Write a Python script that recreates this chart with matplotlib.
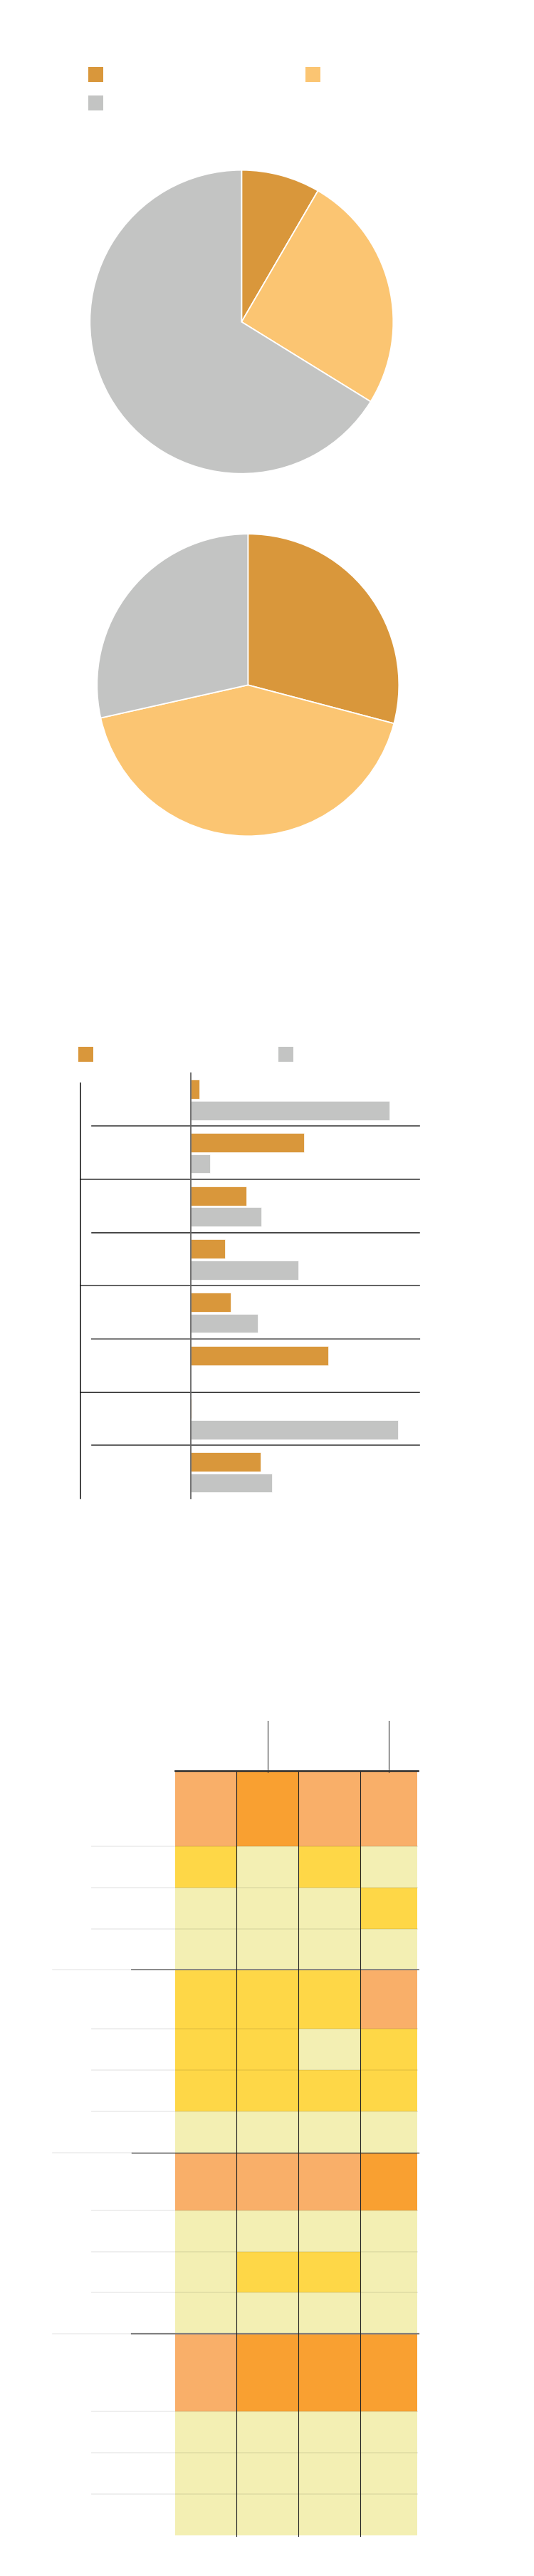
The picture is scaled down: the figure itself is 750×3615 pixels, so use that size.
import numpy as np
import matplotlib
matplotlib.use("Agg")
import matplotlib.pyplot as plt
from matplotlib.lines import Line2D
from matplotlib.colors import ListedColormap
from matplotlib.transforms import blended_transform_factory

W, H = 750, 3616

DARK = "#D9973B"
LIGHT = "#FBC572"
GREY = "#C3C4C3"
PALE = "#F3EFB3"
YELLOW = "#FED747"
SALMON = "#F9AF69"
ORANGE = "#F9A031"

# pie data (shares in %)
pie1_shares = [8.4, 25.4, 66.2]
pie2_shares = [29.1, 42.4, 28.5]
pie_colors = [DARK, LIGHT, GREY]

# paired bars, eight rows in four groups of two
bar_orange = [3.6, 49.5, 24.3, 14.9, 17.5, 60.0, 0.4, 30.5]
bar_grey = [87.0, 8.5, 30.7, 47.0, 29.2, 0.0, 90.5, 35.4]

# heat table levels: 0 pale, 1 yellow, 2 salmon, 3 orange
heat_group1 = [[2, 3, 2, 2], [1, 0, 1, 0], [0, 0, 0, 1], [0, 0, 0, 0]]
heat_group2 = [[1, 1, 1, 2], [1, 1, 0, 1], [1, 1, 1, 1], [0, 0, 0, 0]]
heat_group3 = [[2, 2, 2, 3], [0, 0, 0, 0], [0, 1, 1, 0], [0, 0, 0, 0]]
heat_group4 = [[2, 3, 3, 3], [0, 0, 0, 0], [0, 0, 0, 0], [0, 0, 0, 0]]

fig = plt.figure(figsize=(W / 100, H / 100), dpi=100)


def px_axes(left, top, right, bottom):
    return fig.add_axes([left / W, 1 - bottom / H, (right - left) / W, (bottom - top) / H])


def swatch(color):
    # 21 px square key
    return Line2D([], [], marker="s", markersize=21 * 72 / 100, color=color,
                  linestyle="none", markeredgewidth=0)


def square_legend(colors, x, y, pitch, ncol):
    fs = 6
    px = fs * 100 / 72
    fig.legend(handles=[swatch(c) for c in colors], labels=[""] * len(colors),
               ncol=ncol, numpoints=1, loc="upper left",
               bbox_to_anchor=(x / W, 1 - y / H), frameon=False, borderpad=0,
               borderaxespad=0, fontsize=fs, handlelength=21 / px,
               handleheight=21 / px, handletextpad=0,
               columnspacing=(pitch - 21) / px, labelspacing=24 / px)


# ---- pies
square_legend([DARK, GREY, LIGHT], 123.6, 100, 305, 2)

for shares, (cx, cy, r) in [(pie1_shares, (339.3, 452.7, 213)),
                            (pie2_shares, (348.3, 962.3, 212))]:
    ax = px_axes(cx - r, cy - r, cx + r, cy + r)
    ax.pie(shares, colors=pie_colors, startangle=90, counterclock=False,
           radius=1, wedgeprops=dict(edgecolor="white", linewidth=1.3))
    ax.set_xlim(-1, 1)
    ax.set_ylim(-1, 1)
    ax.set_aspect("equal")
    ax.axis("off")

# ---- paired bars
square_legend([DARK, GREY], 109.7, 1475, 281, 2)

ax = px_axes(268.2, 1506.7, 589.2, 2104)
rows = np.arange(len(bar_orange))
ax.barh(rows - 0.19, bar_orange, height=0.36, color=DARK, edgecolor="white", linewidth=0.5)
ax.barh(rows + 0.205, bar_grey, height=0.36, color=GREY, edgecolor="white", linewidth=0.5)
ax.set_xlim(0, 100)
ax.set_ylim(len(rows) - 0.5, -0.5)
for s in ["top", "right", "bottom"]:
    ax.spines[s].set_visible(False)
ax.spines["left"].set_color("#666666")
ax.spines["left"].set_linewidth(1.3)
ax.set_xticks([])
ax.set_yticks([])

tr = blended_transform_factory(ax.transAxes, ax.transData)
sep_styles = {1: ("#444444", 1.2), 2: ("#444444", 1.2), 3: ("#111111", 1.1),
              4: ("#444444", 1.2), 5: ("#808080", 1.6), 6: ("#111111", 1.1),
              7: ("#444444", 1.2)}
for i in range(1, len(rows)):
    x0 = -0.485 if i % 2 == 0 else -0.433
    col, lw = sep_styles[i]
    ax.plot([x0, 1], [i - 0.5, i - 0.5], color=col, lw=lw, transform=tr, clip_on=False)
ax.plot([-0.485, -0.485], [-0.31, len(rows) - 0.5], color="#111111", lw=1.1,
        transform=tr, clip_on=False)

# ---- heat table
col_widths = [86.2, 86.7, 87.2, 80]
row_heights = [106, 57.8, 57.8, 57.8, 83, 57.8, 57.8, 57.8,
               81, 57.8, 57.8, 57.8, 109, 57.8, 57.8, 57.8]
x_edges = np.concatenate([[0], np.cumsum(col_widths)])
y_edges = np.concatenate([[0], np.cumsum(row_heights)])
levels = np.array(heat_group1 + heat_group2 + heat_group3 + heat_group4)

ax = px_axes(246.2, 2486, 246.2 + x_edges[-1], 2486 + y_edges[-1])
cmap = ListedColormap([PALE, YELLOW, SALMON, ORANGE])
ax.pcolormesh(x_edges, y_edges, levels, cmap=cmap, vmin=-0.5, vmax=3.5)
ax.set_xlim(0, x_edges[-1])
ax.set_ylim(y_edges[-1], 0)
ax.axis("off")

# row rules
group_rules = {4: ("#808080", 1.3), 8: ("#444444", 1.0), 12: ("#808080", 1.6)}
for i in range(1, len(row_heights)):
    y = y_edges[i]
    if i in group_rules:
        col, lw = group_rules[i]
        ax.plot([-172, -60.8], [y, y], color="#eeeeee", lw=1.2, clip_on=False)
        ax.plot([-60.8, x_edges[-1] + 1.5], [y, y], color=col, lw=lw, clip_on=False)
    else:
        ax.plot([-116.9, x_edges[-1]], [y, y], color="black", alpha=0.07, lw=1.3,
                clip_on=False)

# column rules, top border and header ticks
for x in x_edges[1:-1]:
    ax.plot([x, x], [0, y_edges[-1] + 1], color="#222222", lw=0.8, clip_on=False)
ax.plot([0, x_edges[-1] + 1], [0, 0], color="#333333", lw=1.9, clip_on=False)
for c in [1, 3]:
    xc = (x_edges[c] + x_edges[c + 1]) / 2
    ax.plot([xc, xc], [-70, 2], color="#333333", lw=0.8, clip_on=False)

fig.savefig("out.png", dpi=100, facecolor="white")
